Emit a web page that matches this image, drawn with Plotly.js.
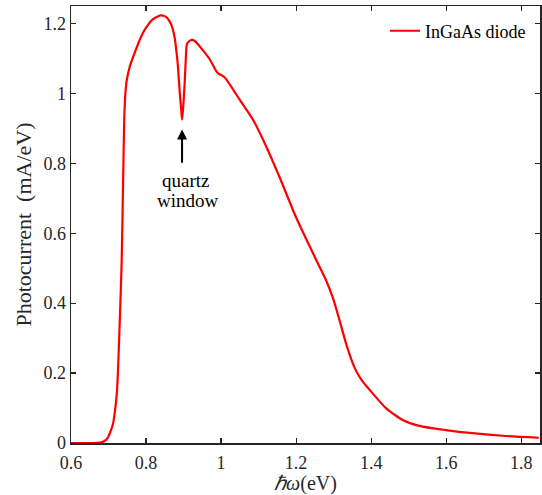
<!DOCTYPE html>
<html>
<head>
<meta charset="utf-8">
<script src="https://cdn.plot.ly/plotly-3.0.1.min.js"></script>
<style>html,body{margin:0;padding:0;background:#fff;}#chart{width:542px;height:495px;}</style>
</head>
<body>
<div id="chart"></div>
<script>
// Photon energy (eV)
const energy = [0.60, 0.651, 0.677, 0.688, 0.698, 0.706, 0.712, 0.717, 0.722, 0.725, 0.730, 0.735, 0.739, 0.742, 0.745, 0.749,
  0.757, 0.770, 0.784, 0.797, 0.818, 0.839, 0.853, 0.863, 0.871, 0.877, 0.882, 0.885, 0.890, 0.894, 0.896, 0.899,
  0.903, 0.906, 0.908, 0.911, 0.921, 0.930, 0.939, 0.954, 0.970, 0.987, 0.994, 1.001, 1.007, 1.014, 1.049, 1.085,
  1.120, 1.156, 1.200, 1.244, 1.262, 1.280, 1.298, 1.316, 1.333, 1.351, 1.363, 1.377, 1.404, 1.440, 1.484, 1.528, 1.599,
  1.670, 1.759, 1.847];
// Photocurrent (mA/eV)
const photocurrent = [0.0, 0.0, 0.001, 0.005, 0.015, 0.035, 0.055, 0.09, 0.14, 0.2, 0.35, 0.516, 0.754, 0.93, 1.0, 1.04,
  1.078, 1.117, 1.155, 1.183, 1.212, 1.223, 1.219, 1.206, 1.185, 1.155, 1.11, 1.077, 1.0, 0.95, 0.925, 0.96,
  1.03, 1.1, 1.135, 1.145, 1.153, 1.15, 1.14, 1.12, 1.097, 1.064, 1.056, 1.052, 1.048, 1.04, 0.983, 0.925,
  0.849, 0.760, 0.645, 0.545, 0.505, 0.465, 0.415, 0.35, 0.285, 0.228, 0.20, 0.176, 0.142, 0.099, 0.066, 0.049, 0.037,
  0.028, 0.020, 0.015];
const xTicks = [0.6, 0.8, 1, 1.2, 1.4, 1.6, 1.8];
const xTickLabels = ['0.6', '0.8', '1', '1.2', '1.4', '1.6', '1.8'];
const yTicks = [0, 0.2, 0.4, 0.6, 0.8, 1, 1.2];
const yTickLabels = ['0', '0.2', '0.4', '0.6', '0.8', '1', '1.2'];
const seriesName = 'InGaAs diode';
const dipLabelLines = ['quartz', 'window'];
const dipX = 0.896, dipTipY = 0.897, dipTailY = 0.797;
const labelXs = [0.906, 0.911], labelYs = [0.750, 0.693];

const font = 'Liberation Serif, Times New Roman, serif';
const axisColor = '#262626';

const trace = {
  x: energy, y: photocurrent, type: 'scatter', mode: 'lines', name: seriesName,
  line: {color: '#ff0000', width: 2.2, shape: 'spline', smoothing: 0.6}
};

const axisCommon = {
  showgrid: false, zeroline: false, showline: true, linecolor: axisColor, linewidth: 1.5,
  mirror: 'ticks', ticks: 'inside', ticklen: 5, tickwidth: 1.2, tickcolor: axisColor,
  tickfont: {family: font, size: 18, color: axisColor}
};

const annotations = [
  {x: dipX, y: dipTipY, ax: dipX, ay: dipTailY, xref: 'x', yref: 'y', axref: 'x', ayref: 'y',
   text: '', showarrow: true, arrowhead: 2, arrowsize: 1, arrowwidth: 2, arrowcolor: '#000'}
];
dipLabelLines.forEach((t, i) => annotations.push({
  x: labelXs[i], y: labelYs[i], xref: 'x', yref: 'y', text: t, showarrow: false,
  font: {family: font, size: 19, color: '#000'}
}));

const layout = {
  width: 542, height: 495,
  margin: {l: 71, r: 2, t: 6, b: 52},
  paper_bgcolor: '#fff', plot_bgcolor: '#fff',
  font: {family: font, color: axisColor},
  showlegend: true,
  legend: {x: 0.981, xanchor: 'right', y: 0.985, yanchor: 'top', bgcolor: 'rgba(0,0,0,0)',
    font: {family: font, size: 18, color: '#000'}},
  xaxis: Object.assign({}, axisCommon, {
    range: [0.6, 1.85], tickvals: xTicks, ticktext: xTickLabels, ticklabelstandoff: 3,
    title: {text: '<i>ℏω</i>(eV)', font: {family: font, size: 20, color: axisColor}, standoff: 10}
  }),
  yaxis: Object.assign({}, axisCommon, {
    range: [0, 1.25], tickvals: yTicks, ticktext: yTickLabels,
    title: {text: 'Photocurrent\u00A0\u00A0(mA/eV)', font: {family: font, size: 22, color: axisColor}, standoff: 5}
  }),
  annotations: annotations
};

Plotly.newPlot('chart', [trace], layout, {displayModeBar: false, staticPlot: true});
</script>
</body>
</html>
